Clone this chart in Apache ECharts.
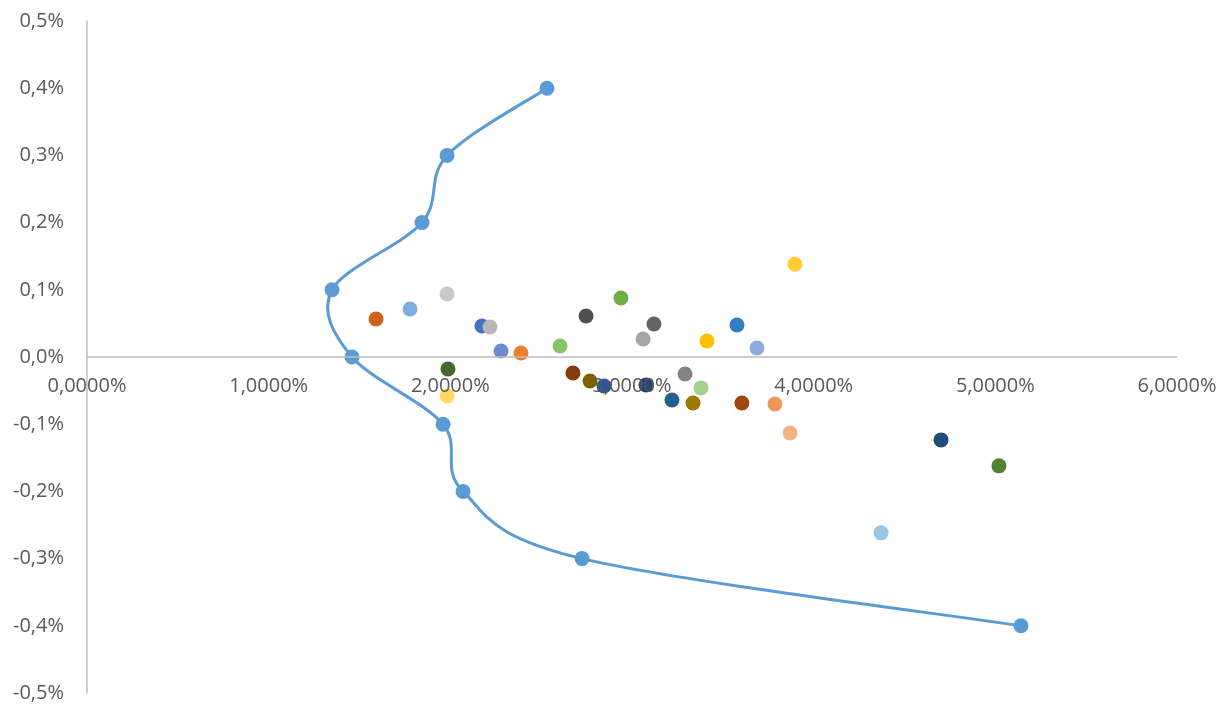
<!DOCTYPE html>
<html>
<head>
<meta charset="utf-8">
<script src="https://cdn.jsdelivr.net/npm/echarts@6/dist/echarts.min.js"></script>
<style>
html,body{margin:0;padding:0;background:#fff;}
#chart{width:1220px;height:704px;}
</style>
</head>
<body>
<div id="chart"></div>
<script>
// Efficient frontier (x: risk %, y: return %)
const frontierX = [2.532, 1.982, 1.844, 1.349, 1.459, 1.960, 2.070, 2.725, 5.141];
const frontierY = [0.4, 0.3, 0.2, 0.1, 0.0, -0.1, -0.2, -0.3, -0.4];

// Individual assets
const assetX = [1.591, 1.778, 1.982, 2.174, 2.218, 2.279, 2.389, 2.604, 2.747, 2.939, 3.061, 3.121, 3.413, 3.578, 3.688, 3.897,
                1.987, 1.982, 2.675, 2.769, 2.846, 3.077, 3.292, 3.380, 3.220, 3.336, 3.605, 3.787, 3.870, 4.701, 5.020, 4.371];
const assetY = [0.0565, 0.0714, 0.0937, 0.0461, 0.0446, 0.0089, 0.0059, 0.0164, 0.0610, 0.0877, 0.0268, 0.0491, 0.0238, 0.0476, 0.0134, 0.1380,
                -0.0178, -0.0580, -0.0238, -0.0357, -0.0431, -0.0416, -0.0253, -0.0460, -0.0639, -0.0684, -0.0684, -0.0699, -0.1130, -0.1234, -0.1620, -0.2617];
const assetColors = ['#D0601A', '#7CAFDD', '#C9C9C9', '#4472C4', '#B7B7B7', '#698ED0', '#ED7D31', '#8CC168', '#4F4F4F', '#70AD47', '#A5A5A5', '#636363', '#FFC000', '#327DC2', '#8FAADC', '#FFCD33',
                     '#43682B', '#FFD966', '#843C0C', '#7F6000', '#2F5597', '#264478', '#848484', '#A9D18E', '#255E91', '#9E7800', '#9E480E', '#F1975A', '#F4B183', '#1F4E79', '#548235', '#9DC3E6'];

const xTicks = {min: 0, max: 6, interval: 1};
const yTicks = {min: -0.5, max: 0.5, interval: 0.1};

const labelFont = {color: '#595959', fontSize: 20, fontFamily: 'Open Sans'};
const frontierColor = '#5B9BD5';

const series = [];
// smooth frontier curve (Catmull-Rom style, like spreadsheet smoothing) drawn through data points via the axis scales
series.push({
  type: 'custom',
  coordinateSystem: 'cartesian2d',
  data: [[frontierX[0], frontierY[0]]],
  silent: true,
  z: 3,
  renderItem: function (params, api) {
    const pts = frontierX.map((x, i) => api.coord([x, frontierY[i]]));
    const n = pts.length;
    let d = 'M' + pts[0][0] + ' ' + pts[0][1];
    for (let i = 0; i < n - 1; i++) {
      const p0 = pts[Math.max(i - 1, 0)], p1 = pts[i], p2 = pts[i + 1], p3 = pts[Math.min(i + 2, n - 1)];
      const t = 1 / 6;
      const c1 = [p1[0] + (p2[0] - p0[0]) * t, p1[1] + (p2[1] - p0[1]) * t];
      const c2 = [p2[0] - (p3[0] - p1[0]) * t, p2[1] - (p3[1] - p1[1]) * t];
      d += ' C' + c1[0] + ' ' + c1[1] + ' ' + c2[0] + ' ' + c2[1] + ' ' + p2[0] + ' ' + p2[1];
    }
    return {
      type: 'path',
      shape: {pathData: d},
      style: {fill: null, stroke: frontierColor, lineWidth: 3}
    };
  }
});
series.push({
  type: 'scatter',
  data: frontierX.map((x, i) => [x, frontierY[i]]),
  symbol: 'circle',
  symbolSize: 15,
  itemStyle: {color: frontierColor, opacity: 1},
  z: 4
});
assetX.forEach((x, i) => {
  series.push({
    type: 'scatter',
    data: [[x, assetY[i]]],
    symbol: 'circle',
    symbolSize: 15,
    itemStyle: {color: assetColors[i], opacity: 1},
    z: 2
  });
});

const chart = echarts.init(document.getElementById('chart'), null, {renderer: 'canvas'});
const baseOption = {
  animation: false,
  grid: {left: 87, right: 43, top: 21, bottom: 11, containLabel: false, outerBoundsMode: 'none'},
  xAxis: {
    type: 'value',
    position: 'bottom',
    offset: 0,
    z: 10,
    min: xTicks.min, max: xTicks.max, interval: xTicks.interval,
    axisLine: {onZero: false, lineStyle: {color: '#BFBFBF', width: 1.5}},
    axisTick: {show: false},
    splitLine: {show: false},
    axisLabel: Object.assign({margin: 19, formatter: v => v.toFixed(4).replace('.', ',') + '%'}, labelFont)
  },
  yAxis: {
    type: 'value',
    min: yTicks.min, max: yTicks.max, interval: yTicks.interval,
    axisLine: {show: true, onZero: false, lineStyle: {color: '#BFBFBF', width: 1.5}},
    axisTick: {show: false},
    splitLine: {show: false},
    axisLabel: Object.assign({margin: 23, formatter: v => (Math.abs(v) < 1e-9 ? 0 : v).toFixed(1).replace('.', ',') + '%'}, labelFont)
  },
  series: series
};
chart.setOption(baseOption);
// move the whole x axis (line + labels) to the y = 0 crossing, as in the reference
const zeroPx = chart.convertToPixel({yAxisIndex: 0}, 0);
const bottomPx = chart.convertToPixel({yAxisIndex: 0}, yTicks.min);
chart.setOption({xAxis: {offset: zeroPx - bottomPx}});
</script>
</body>
</html>
